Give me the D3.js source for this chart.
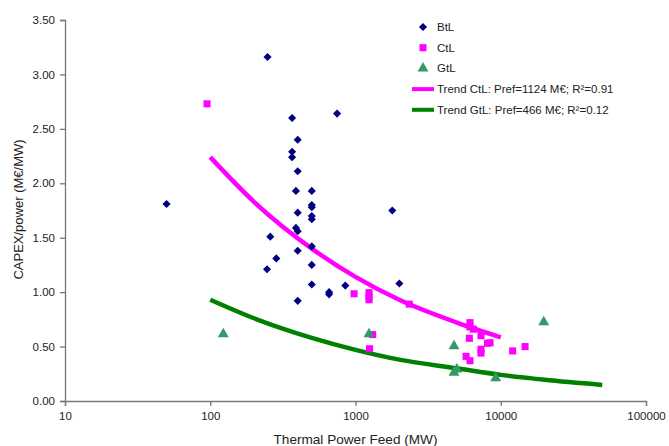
<!DOCTYPE html>
<html>
<head>
<meta charset="utf-8">
<script src="https://cdn.jsdelivr.net/npm/d3@7"></script>
<style>
  body { margin: 0; background: #fff; }
  text { font-family: "Liberation Sans", Arial, sans-serif; fill: #222; }
</style>
</head>
<body>
<svg id="chart" width="669" height="446"></svg>
<script>
// data: [thermal power feed MW, CAPEX/power M€/MW]
const btlPoints = [
  [50, 1.81], [248, 3.16], [366, 2.60], [747, 2.64], [400, 2.40], [366, 2.29],
  [366, 2.24], [400, 2.11], [389, 1.93], [500, 1.93], [500, 1.80], [500, 1.78],
  [500, 1.70], [500, 1.67], [400, 1.73], [389, 1.59], [400, 1.56], [259, 1.51],
  [500, 1.42], [400, 1.38], [285, 1.31], [500, 1.25], [246, 1.21], [500, 1.07],
  [400, 0.92], [658, 1.00], [658, 0.98], [851, 1.06], [1791, 1.75], [2005, 1.08]
];
const ctlPoints = [
  [95, 2.73], [978, 0.985], [1239, 0.995], [1239, 0.96], [1239, 0.93], [1313, 0.61],
  [1250, 0.48], [2345, 0.89], [6140, 0.72], [6140, 0.68], [6470, 0.66], [6080, 0.576],
  [7310, 0.60], [8440, 0.535], [8100, 0.53], [7310, 0.475], [7310, 0.44], [5770, 0.41],
  [6140, 0.37], [12080, 0.46], [14700, 0.50]
];
const gtlPoints = [
  [123, 0.615], [1239, 0.615], [4765, 0.505], [4980, 0.29], [4765, 0.26],
  [9230, 0.21], [19770, 0.725]
];
// trend curves
const trendCtl = [
  [100, 2.24], [200, 1.83], [500, 1.40], [1000, 1.14], [2000, 0.93], [5000, 0.72], [10000, 0.585]
];
const trendGtl = [
  [100, 0.93], [200, 0.76], [500, 0.58], [1000, 0.47], [2000, 0.38], [5000, 0.30],
  [10000, 0.24], [20000, 0.195], [50000, 0.148]
];
const xTicks = [10, 100, 1000, 10000, 100000];
const yTicks = [0, 0.5, 1, 1.5, 2, 2.5, 3, 3.5];
const legendLabels = ['BtL', 'CtL', 'GtL',
  'Trend CtL: Pref=1124 M€; R²=0.91', 'Trend GtL: Pref=466 M€; R²=0.12'];

const svg = d3.select('#chart');
const margin = { top: 20, right: 23, bottom: 45, left: 65 };
const width = 669 - margin.left - margin.right;
const height = 446 - margin.top - margin.bottom;

const x = d3.scaleLog().domain([10, 100000]).range([0, width]);
const y = d3.scaleLinear().domain([0, 3.5]).range([height, 0]);

const g = svg.append('g').attr('transform', `translate(${margin.left},${margin.top})`);

// axes
const xAxis = g.append('g')
  .attr('transform', `translate(0,${height})`)
  .call(d3.axisBottom(x).tickValues(xTicks).tickFormat(d3.format('d')).tickSize(5).tickPadding(6));
const yAxis = g.append('g')
  .call(d3.axisLeft(y).tickValues(yTicks).tickFormat(d3.format('.2f')).tickSize(5).tickPadding(5));
[xAxis, yAxis].forEach(a => {
  a.select('.domain').attr('stroke', '#777').attr('stroke-width', 1.3);
  a.selectAll('.tick line').attr('stroke', '#777').attr('stroke-width', 1.3);
  a.selectAll('.tick text').style('font-size', '11.5px').attr('fill', '#222')
    .style('font-family', '"Liberation Sans", Arial, sans-serif');
});

// trend lines
const line = d3.line().x(d => x(d[0])).y(d => y(d[1])).curve(d3.curveMonotoneX);
g.append('path').datum(trendGtl).attr('d', line)
  .attr('fill', 'none').attr('stroke', '#008000').attr('stroke-width', 4.5);
g.append('path').datum(trendCtl).attr('d', line)
  .attr('fill', 'none').attr('stroke', '#ff00ff').attr('stroke-width', 4.5);

// markers
const diamond = d3.symbol().type(d3.symbolDiamond2).size(42);
const square = d3.symbol().type(d3.symbolSquare).size(50);
const triangle = d3.symbol().type(d3.symbolTriangle).size(52);

g.append('g').selectAll('path').data(btlPoints).join('path')
  .attr('d', diamond).attr('fill', '#000080')
  .attr('transform', d => `translate(${x(d[0])},${y(d[1])})`);
g.append('g').selectAll('path').data(ctlPoints).join('path')
  .attr('d', square).attr('fill', '#ff00ff')
  .attr('transform', d => `translate(${x(d[0])},${y(d[1])})`);
g.append('g').selectAll('path').data(gtlPoints).join('path')
  .attr('d', triangle).attr('fill', '#339966')
  .attr('transform', d => `translate(${x(d[0])},${y(d[1])})`);

// axis titles
svg.append('text')
  .attr('x', margin.left + x(1000)).attr('y', 443.5)
  .attr('text-anchor', 'middle').style('font-size', '13.6px')
  .text('Thermal Power Feed (MW)');
svg.append('text')
  .attr('transform', `translate(23,${margin.top + height / 2 - 1}) rotate(-90)`)
  .attr('text-anchor', 'middle').style('font-size', '13px')
  .text('CAPEX/power (M€/MW)');

// legend
const legend = svg.append('g').attr('transform', 'translate(423,27)');
const legendRowH = 20.7;
legendLabels.forEach((label, i) => {
  const row = legend.append('g').attr('transform', `translate(0,${i * legendRowH})`);
  if (i === 0) row.append('path').attr('d', diamond).attr('fill', '#000080');
  if (i === 1) row.append('path').attr('d', square).attr('fill', '#ff00ff');
  if (i === 2) row.append('path').attr('d', triangle).attr('fill', '#339966');
  if (i > 2) {
    row.append('line').attr('x1', -11).attr('x2', 11).attr('y1', 0).attr('y2', 0)
      .attr('stroke', i === 3 ? '#ff00ff' : '#008000').attr('stroke-width', 4);
  }
  row.append('text').attr('x', 14).attr('y', 0).attr('dy', '0.35em')
    .style('font-size', '11.5px').text(label);
});
</script>
</body>
</html>
